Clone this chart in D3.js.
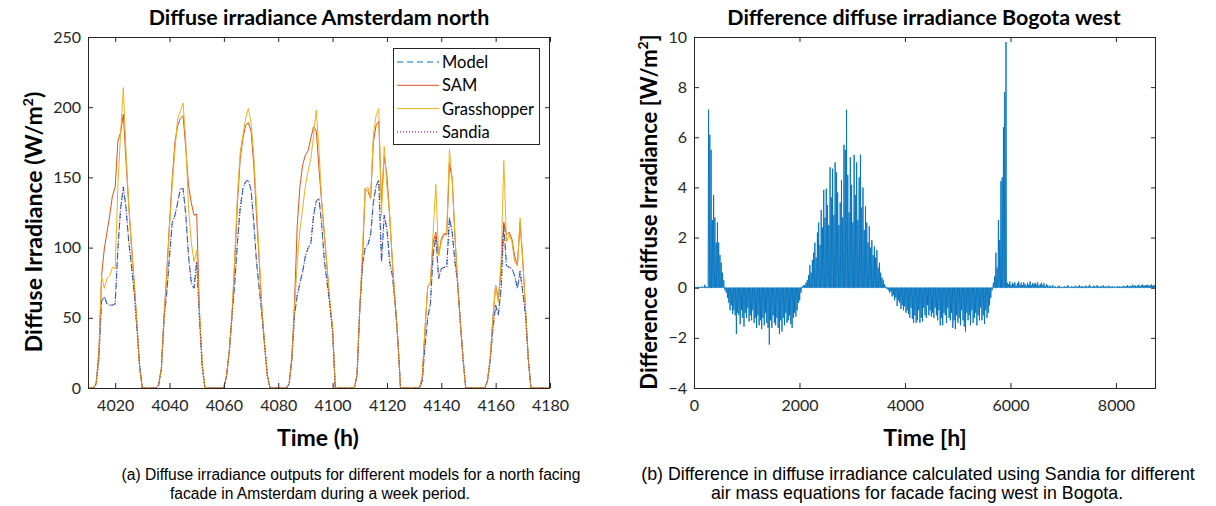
<!DOCTYPE html>
<html>
<head>
<meta charset="utf-8">
<script src="https://cdn.jsdelivr.net/npm/d3@7"></script>
<style>
  html, body { margin: 0; padding: 0; background: #fff; }
  svg { display: block; }
</style>
</head>
<body>
<svg id="chart" width="1216" height="506"></svg>
<script>
// ---------------- DATA ----------------
// Left chart: hourly diffuse irradiance, hours 4010..4180
const hourStart = 4010;
const hourEnd = 4180;
const modelValues = [
  0,0,0,3,21,62,65,60,59,59,
  60,99,128,143,128,104,87,68,42,16,
  0,0,0,0,0,0,2,14,50,68,
  94,118,123,132,142,142,123,94,75,71,
  90,50,16,0,0,0,0,0,0,0,
  0,9,26,52,75,104,128,142,147,148,
  141,118,90,71,52,30,9,0,0,0,
  0,0,0,0,3,20,52,66,75,83,
  94,100,103,123,133,135,116,90,75,59,
  40,0,0,0,0,0,0,0,0,9,
  56,88,100,102,109,132,144,148,90,123,
  113,90,80,61,35,0,0,0,0,0,
  0,0,0,5,30,50,60,95,108,78,
  85,86,86,121,111,90,75,47,21,0,
  0,0,0,0,0,0,0,5,20,42,
  59,52,71,116,87,86,85,80,71,83,
  68,52,21,0,0,0,0,0,0,0,
  0
];
const samValues = [
  0,0,0,3,26,80,99,111,123,137,
  143,176,182,195,161,130,102,75,47,14,
  0,0,0,0,0,0,2,14,52,83,
  118,149,175,187,192,194,170,144,132,123,
  124,55,18,0,0,0,0,0,0,0,
  0,9,26,52,90,132,163,178,187,189,
  183,159,123,90,56,30,9,0,0,0,
  0,0,0,0,3,22,61,116,144,159,
  166,169,178,186,183,156,132,109,85,61,
  42,0,0,0,0,0,0,0,0,9,
  56,90,142,140,135,175,187,190,132,165,
  151,123,90,61,35,0,0,0,0,0,
  0,0,0,8,42,72,75,104,111,94,
  106,110,109,160,149,109,75,47,21,0,
  0,0,0,0,0,0,0,5,21,50,
  73,63,86,118,109,111,106,94,87,118,
  90,56,21,0,0,0,0,0,0,0,
  0
];
const grasshopperValues = [
  0,0,0,3,20,80,71,78,80,86,
  85,144,182,214,168,130,99,75,45,14,
  0,0,0,0,0,0,2,14,50,80,
  115,145,170,192,197,203,175,128,104,90,
  98,55,18,0,0,0,0,0,0,0,
  0,9,26,52,94,137,168,180,192,199,
  189,166,130,94,56,30,9,0,0,0,
  0,0,0,0,3,20,56,90,113,128,
  144,155,163,180,198,170,132,109,85,61,
  42,0,0,0,0,0,0,0,0,9,
  56,99,142,143,135,180,194,199,123,172,
  144,123,90,61,35,0,0,0,0,0,
  0,0,0,8,42,72,75,111,145,94,
  104,109,111,170,149,109,75,47,21,0,
  0,0,0,0,0,0,0,5,21,50,
  73,61,90,162,104,109,104,90,87,121,
  90,56,21,0,0,0,0,0,0,0,
  0
];
const sandiaValues = [
  0,0,0,3,21,62,65,60,59,59,
  60,99,128,143,128,104,87,68,42,16,
  0,0,0,0,0,0,2,14,50,68,
  94,118,123,132,142,142,123,94,75,71,
  90,50,16,0,0,0,0,0,0,0,
  0,9,26,52,75,104,128,142,147,148,
  141,118,90,71,52,30,9,0,0,0,
  0,0,0,0,3,20,52,66,75,83,
  94,100,103,123,133,135,116,90,75,59,
  40,0,0,0,0,0,0,0,0,9,
  56,88,100,102,109,132,144,148,90,123,
  113,90,80,61,35,0,0,0,0,0,
  0,0,0,5,30,50,60,95,108,78,
  85,86,86,121,111,90,75,47,21,0,
  0,0,0,0,0,0,0,5,20,42,
  59,52,71,116,87,86,85,80,71,83,
  68,52,21,0,0,0,0,0,0,0,
  0
];
const seriesNames = ["Model", "SAM", "Grasshopper", "Sandia"];
const leftXTicks = [4020, 4040, 4060, 4080, 4100, 4120, 4140, 4160, 4180];
const leftYTicks = [0, 50, 100, 150, 200, 250];

// Right chart: daily midday difference (W/m2), day 0..364 of the year
const diffDaily = [
  0.02,0.03,0.02,0.04,0.03,0.02,0.05,0.03,0.12,0.04,
  0.03,7.1,6.1,5.5,2.7,3.7,2.8,1.8,2.6,1.8,
  1.3,1.0,0.6,0.3,-0.1,-0.2,-0.4,-0.6,-0.9,-0.7,
  -1.05,-0.9,-1.1,-1.85,-1.0,-1.1,-1.45,-0.9,-1.2,-1.55,
  -1.0,-1.2,-0.8,-1.35,-1.1,-1.3,-0.9,-1.4,-1.2,-1.6,
  -1.1,-1.5,-1.3,-1.65,-1.2,-1.5,-1.0,-1.4,-1.6,-2.27,
  -1.3,-1.6,-1.1,-1.4,-1.5,-1.2,-1.6,-1.85,-1.3,-1.75,
  -1.2,-1.5,-1.0,-1.4,-1.3,-1.1,-1.45,-1.6,-1.2,-1.0,
  -1.15,-0.9,-0.6,-0.5,-0.2,0.05,0.1,0.1,0.2,0.3,
  0.5,0.9,0.6,1.1,1.4,1.8,1.2,2.2,2.6,1.7,
  3.1,2.4,3.9,2.8,3.95,3.3,2.5,4.8,3.6,4.75,
  2.9,5.0,4.6,3.8,2.5,3.4,4.3,2.8,5.7,5.5,
  7.1,4.5,3.0,5.2,4.1,2.6,5.3,3.7,5.0,2.7,
  4.4,5.3,3.2,4.0,2.3,3.25,2.6,1.8,2.45,1.6,
  1.9,1.3,1.65,1.2,1.5,0.8,1.0,0.6,0.4,0.3,
  0.15,0.05,-0.05,-0.1,-0.2,-0.15,-0.35,-0.3,-0.5,-0.4,
  -0.73,-0.5,-0.6,-0.85,-0.7,-0.9,-0.75,-1.0,-0.9,-1.05,
  -1.2,-0.8,-1.25,-1.4,-1.1,-1.4,-1.3,-0.9,-1.4,-1.2,
  -1.35,-0.8,-1.1,-1.2,-0.7,-1.1,-0.9,-1.15,-1.0,-1.2,
  -0.8,-1.1,-1.3,-0.9,-1.5,-1.2,-1.5,-1.0,-1.1,-1.4,
  -0.8,-1.2,-1.3,-1.0,-1.6,-1.3,-1.65,-1.1,-1.4,-1.2,
  -1.5,-0.9,-1.3,-1.55,-1.75,-1.0,-1.3,-1.1,-1.5,-0.9,
  -1.4,-1.2,-1.0,-1.5,-1.1,-1.3,-0.8,-1.3,-1.1,-1.45,
  -0.9,-1.2,-1.0,-0.7,-0.4,-0.1,0.2,0.45,1.4,0.8,
  2.7,1.9,4.25,4.4,6.4,7.8,9.8,0.2,0.15,0.25,
  0.1,0.2,0.15,0.22,0.08,0.18,0.25,0.12,0.2,0.1,
  0.22,0.15,0.08,0.2,0.12,0.25,0.1,0.18,0.15,0.2,
  0.12,0.22,0.08,0.15,0.2,0.1,0.18,0.06,0.14,0.1,
  0.05,0.08,0.04,0.1,0.03,0.06,0.02,0.05,0.08,0.03,
  0.04,0.02,0.06,0.03,0.05,0.1,0.04,0.02,0.07,0.03,
  0.05,0.08,0.03,0.06,0.1,0.04,0.07,0.03,0.05,0.08,
  0.04,0.06,0.12,0.05,0.03,0.08,0.06,0.04,0.1,0.05,
  0.03,0.07,0.05,0.09,0.04,0.06,0.03,0.08,0.05,0.04,
  0.06,0.03,0.05,0.02,0.07,0.04,0.06,0.03,0.05,0.08,
  0.04,0.07,0.1,0.05,0.08,0.06,0.12,0.07,0.1,0.05,
  0.08,0.12,0.06,0.1,0.13,0.07,0.11,0.09,0.12,0.08,
  0.1,0.13,0.08,0.11,0.07
];
const rightXTicks = [0, 2000, 4000, 6000, 8000];
const rightYTicks = [-4, -2, 0, 2, 4, 6, 8, 10];

const titleLeft = "Diffuse irradiance Amsterdam north";
const titleRight = "Difference diffuse irradiance Bogota west";
const captionLeft = ["(a) Diffuse irradiance outputs for different models for a north facing",
                     "facade in Amsterdam during a week period."];
const captionRight = ["(b) Difference in diffuse irradiance calculated using Sandia for different",
                      "air mass equations for facade facing west in Bogota."];

// ---------------- DRAW ----------------
const svg = d3.select("#chart");
svg.append("rect").attr("width", 1216).attr("height", 506).attr("fill", "#fff");

const FONT = "Lato, 'Open Sans', sans-serif";
const AXC = "#262626";
const colors = ["#0072BD", "#D95319", "#EDB120", "#7E2F8E"];
const dashes = ["6,4", null, null, "1,2"];

function drawFrame(g, x, y, xTicks, yTicks) {
  const [x0, x1] = x.range();
  const [y0, y1] = y.range();
  const bx = g.append("g").attr("transform", `translate(0,${y0})`)
    .call(d3.axisBottom(x).tickValues(xTicks).tickSize(-5).tickPadding(12).tickFormat(d3.format("d")));
  const lx = g.append("g").attr("transform", `translate(${x0},0)`)
    .call(d3.axisLeft(y).tickValues(yTicks).tickSize(-5).tickPadding(7).tickFormat(d3.format("d")));
  const tx = g.append("g").attr("transform", `translate(0,${y1})`)
    .call(d3.axisTop(x).tickValues(xTicks).tickSize(-5).tickFormat(""));
  const rx = g.append("g").attr("transform", `translate(${x1},0)`)
    .call(d3.axisRight(y).tickValues(yTicks).tickSize(-5).tickFormat(""));
  [bx, lx, tx, rx].forEach(a => {
    a.select(".domain").remove();
    a.selectAll("line").attr("stroke", AXC).attr("stroke-width", 1);
    a.selectAll("text").attr("fill", AXC).style("font-family", FONT).style("font-size", "16px");
  });
  g.append("rect").attr("x", x0 + 0.5).attr("y", y1 + 0.5)
    .attr("width", x1 - x0 - 1).attr("height", y0 - y1)
    .attr("fill", "none").attr("stroke", AXC).attr("stroke-width", 1);
}

// ---- Left chart ----
const xL = d3.scaleLinear().domain([hourStart, hourEnd]).range([88, 550]);
const yL = d3.scaleLinear().domain([0, 250]).range([388, 37]);
const gL = svg.append("g");
const hours = d3.range(hourStart, hourEnd + 1);
const allSeries = [modelValues, samValues, grasshopperValues, sandiaValues];

const lineL = d3.line().x(d => xL(d[0])).y(d => yL(d[1]));
const gLines = gL.append("g");
allSeries.forEach((vals, i) => {
  const pts = hours.map((h, k) => [h, vals[k]]);
  gLines.append("path").datum(pts)
    .attr("d", lineL)
    .attr("fill", "none")
    .attr("stroke", colors[i])
    .attr("stroke-width", i === 3 ? 1.2 : 1)
    .attr("stroke-linejoin", "round")
    .attr("stroke-dasharray", dashes[i]);
});
drawFrame(gL, xL, yL, leftXTicks, leftYTicks);

// legend
const leg = gL.append("g");
leg.append("rect").attr("x", 393.5).attr("y", 48.5).attr("width", 146).attr("height", 96)
  .attr("fill", "#fff").attr("stroke", AXC).attr("stroke-width", 1);
seriesNames.forEach((name, i) => {
  const yy = 62 + i * 23.3;
  leg.append("line").attr("x1", 397).attr("x2", 439).attr("y1", yy).attr("y2", yy)
    .attr("stroke", colors[i]).attr("stroke-width", i === 3 ? 1.2 : 1)
    .attr("stroke-dasharray", dashes[i]);
  leg.append("text").attr("x", 442).attr("y", yy + 6).text(name)
    .attr("fill", "#000").style("font-family", FONT).style("font-size", "16.5px");
});

// ---- Right chart ----
const xR = d3.scaleLinear().domain([0, 8760]).range([694, 1156]);
const yR = d3.scaleLinear().domain([-4, 10]).range([388, 37]);
const gR = svg.append("g");
const diffPts = [];
diffDaily.forEach((v, d) => {
  diffPts.push([d * 24 + 4, 0]);
  diffPts.push([d * 24 + 12, v]);
  diffPts.push([d * 24 + 20, 0]);
});
diffPts.push([8760, 0]);
const lineR = d3.line().x(d => xR(d[0])).y(d => yR(d[1]));
gR.append("path").datum(diffPts).attr("d", lineR)
  .attr("fill", "none").attr("stroke", "#0072BD").attr("stroke-width", 0.9)
  .attr("stroke-linejoin", "miter");
drawFrame(gR, xR, yR, rightXTicks, rightYTicks);

// ---- Titles and labels ----
function txt(x, y, s, size, weight, anchor, family) {
  return svg.append("text").attr("x", x).attr("y", y).text(s)
    .attr("text-anchor", anchor || "middle").attr("fill", "#000")
    .style("font-family", family || FONT).style("font-size", size + "px")
    .style("font-weight", weight || "normal");
}
txt(319, 25, titleLeft, 21.4, "bold");
txt(924, 25, titleRight, 21.4, "bold");
txt(318, 446, "Time (h)", 23, "bold");
txt(925, 446, "Time [h]", 23, "bold");

function ylabel(x, y, main, close, size) {
  const t = svg.append("text").attr("transform", `translate(${x},${y}) rotate(-90)`)
    .attr("text-anchor", "middle").attr("fill", "#000")
    .style("font-family", FONT).style("font-size", size + "px").style("font-weight", "bold");
  t.append("tspan").text(main);
  t.append("tspan").text("2").attr("dy", -9).style("font-size", "14px");
  t.append("tspan").text(close).attr("dy", 9);
}
ylabel(42, 222, "Diffuse Irradiance (W/m", ")", 23);
ylabel(657, 212, "Difference diffuse Irradiance [W/m", "]", 22);

const CAP = "'Liberation Sans', Arial, sans-serif";
txt(351, 480, captionLeft[0], 15.6, "normal", "middle", CAP);
txt(320, 499, captionLeft[1], 15.6, "normal", "middle", CAP);
txt(918, 480, captionRight[0], 17.8, "normal", "middle", CAP);
txt(917, 499, captionRight[1], 17.8, "normal", "middle", CAP);
</script>
</body>
</html>
